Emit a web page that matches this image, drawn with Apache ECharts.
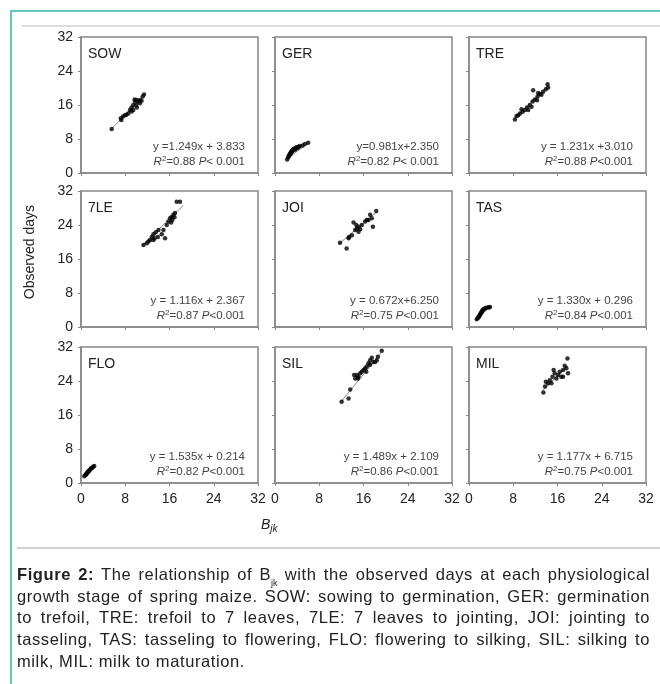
<!DOCTYPE html>
<html>
<head>
<meta charset="utf-8">
<script src="https://cdn.jsdelivr.net/npm/echarts@6/dist/echarts.min.js"></script>
<style>
  html, body { margin: 0; padding: 0; background: #fff; }
  #wrap { position: relative; width: 660px; height: 684px; overflow: hidden; }
  #main { position: absolute; left: 0; top: 0; width: 660px; height: 684px; }
  .frameTop { position: absolute; left: 11px; top: 10px; width: 660px; height: 2px; background: #62c8bb; }
  .frameLeft { position: absolute; left: 10px; top: 10px; width: 2px; height: 700px; background: #62c8bb; }
  .rule1 { position: absolute; left: 22px; top: 25px; width: 650px; height: 2px; background: #dcdcdc; }
  .rule2 { position: absolute; left: 17px; top: 547px; width: 650px; height: 2px; background: #d0d0d0; }
  #cap { position: absolute; left: 17px; top: 564px; width: 633px; font-family: "Liberation Sans", Arial, sans-serif;
         font-size: 16.5px; letter-spacing: 0.6px; line-height: 21.7px; color: #222; }
  #cap .l { text-align: justify; text-align-last: justify; white-space: nowrap; }
  #cap sub { font-size: 9px; vertical-align: -6px; line-height: 0; letter-spacing: 0; }
</style>
</head>
<body>
<div id="wrap">
  <div id="main"></div>
  <div class="frameTop"></div>
  <div class="frameLeft"></div>
  <div class="rule1"></div>
  <div class="rule2"></div>
  <div id="cap">
    <div class="l"><b>Figure 2:</b> The relationship of B<sub>jk</sub> with the observed days at each physiological</div>
    <div class="l">growth stage of spring maize. SOW: sowing to germination, GER: germination</div>
    <div class="l">to trefoil, TRE: trefoil to 7 leaves, 7LE: 7 leaves to jointing, JOI: jointing to</div>
    <div class="l">tasseling, TAS: tasseling to flowering, FLO: flowering to silking, SIL: silking to</div>
    <div>milk, MIL: milk to maturation.</div>
  </div>
</div>
<script>
// 各阶段数据 [B_jk, observed days]
const stages = ['SOW', 'GER', 'TRE', '7LE', 'JOI', 'TAS', 'FLO', 'SIL', 'MIL']
const axisTicks = [0, 8, 16, 24, 32]

const sow = [[5.55,10.35],[7.2,12.9],[7.6,13.3],[7.95,13.6],[8.55,14.0],[8.85,14.8],[9.15,15.4],[9.45,16],[9.75,16.8],
  [10.05,17.2],[10.35,16.8],[10.65,17.2],[11.15,18],[11.4,18.5],[9.95,16],[9.45,14.8],[10.1,15.4],[8.2,13.7],
  [7.3,12.5],[9.15,14.5],[10.65,16.4],[9.7,17.3],[10.95,17.0]]
const ger = [[2.2,3.2],[2.4,3.7],[2.6,4.2],[2.7,4.6],[2.9,4.9],[3.0,5.2],[3.2,5.4],[3.3,5.6],[3.5,5.7],[3.7,5.9],
  [3.9,6.0],[4.1,6.1],[4.3,6.2],[4.5,6.35],[5.0,6.5],[5.4,6.8],[6.0,7.1],[2.8,4.4],[3.1,5.0],[3.6,5.5],[4.0,5.8],[2.5,4.0]]
const tre = [[8.3,12.6],[8.6,13.4],[9.2,14.0],[9.7,14.4],[10.1,14.8],[10.5,15.4],[11.0,16],[11.5,16.8],[11.9,17.3],
  [12.4,18.0],[12.8,18.6],[13.4,19.1],[13.9,19.7],[14.3,20.1],[14.2,20.9],[9.5,15],[10.7,14.8],[12.3,17.1],
  [13.1,18.4],[11.3,15.6],[8.9,13.6],[12.5,18.8],[11.6,19.5]]
const le7 = [[11.3,19.3],[11.9,19.7],[12.5,20.5],[12.8,21.2],[13.1,21.8],[13.5,22.3],[14.0,22.8],[13.9,21.2],
  [14.6,21.8],[15.2,20.9],[14.9,22.8],[15.8,24.8],[16.1,25.6],[16.4,25.9],[16.7,26.4],[17.0,26.8],[16.5,25.2],
  [17.3,29.5],[17.9,29.5],[15.5,24.0],[12.2,20.1],[13.1,20.5],[13.3,20.9],[16.9,25.8],[16.3,24.6]]
const joi = [[11.75,19.8],[12.95,18.5],[13.3,20.9],[13.9,21.6],[14.2,24.6],[14.5,22.8],[14.8,23.2],[15.1,23.6],
  [15.4,23.0],[15.7,24.0],[16.3,24.8],[16.9,25.2],[17.2,26.4],[17.5,25.6],[17.7,23.6],[18.3,27.3],[14.7,24.0],
  [13.4,21.2],[15.1,22.4],[16.6,25.2]]
const tas = [[1.4,1.8],[1.6,2.1],[1.8,2.5],[2.0,2.9],[2.1,3.2],[2.3,3.5],[2.4,3.8],[2.6,4.1],[2.8,4.3],[3.0,4.5],
  [3.3,4.6],[3.6,4.6],[3.8,4.7],[2.2,3.4],[1.9,2.7],[2.5,4.0],[1.7,2.3]]
const flo = [[0.6,1.6],[0.8,1.9],[1.0,2.2],[1.2,2.5],[1.4,2.8],[1.6,3.1],[1.8,3.4],[2.0,3.6],[2.2,3.8],[2.4,4.0],
  [1.1,2.4],[1.5,2.9],[1.9,3.5],[0.9,2.0],[1.3,2.7]]
const sil = [[12.05,19.1],[13.3,19.9],[13.6,22.0],[14.5,24.6],[14.8,25.4],[15.1,25.0],[15.4,25.8],[15.7,26.2],
  [16.0,26.6],[16.3,27.0],[16.6,27.4],[16.9,28.2],[17.2,28.9],[17.5,29.5],[17.8,28.5],[18.4,28.9],[19.3,31.1],
  [18.6,29.7],[14.3,25.4],[15.0,24.6],[16.5,26.2],[17.2,27.8],[18.1,28.5]]
const mil = [[13.45,21.3],[13.75,22.7],[14.3,23.5],[14.6,24.2],[15.1,25.0],[15.5,25.8],[15.8,24.6],[16.4,26.2],
  [16.7,25.0],[17.0,26.6],[17.3,27.6],[17.6,27.0],[17.8,29.3],[13.9,23.8],[14.9,23.5],[16.1,25.4],[17.0,25.0],
  [17.9,25.8],[15.3,26.6]]
const points = [sow, ger, tre, le7, joi, tas, flo, sil, mil]

// 回归线两端
const fitLines = [
  [[5.3,10.1],[11.5,18.3]], [[2.1,3.3],[6.0,7.0]], [[8.2,12.8],[14.4,20.6]],
  [[11.0,19.1],[18.5,28.6]], [[11.5,19.5],[18.5,27.2]], [[1.4,1.9],[3.8,4.7]],
  [[0.6,1.6],[2.4,4.0]], [[11.8,18.9],[19.3,30.8]], [[13.3,21.8],[17.9,27.6]]
]

const eqText = ['y =1.249x + 3.833', 'y=0.981x+2.350', 'y = 1.231x +3.010', 'y = 1.116x + 2.367', 'y = 0.672x+6.250',
  'y = 1.330x + 0.296', 'y = 1.535x + 0.214', 'y = 1.489x + 2.109', 'y = 1.177x + 6.715']
const r2Text = ['0.88', '0.82', '0.88', '0.87', '0.75', '0.84', '0.82', '0.86', '0.75']
const pText = ['< 0.001', '< 0.001', '<0.001', '<0.001', '<0.001', '<0.001', '<0.001', '<0.001', '<0.001']

const colLeft = [81, 275, 469]
const rowTop = [37, 191, 347]
const W = 177, H = 136
const font = '"Liberation Sans", Arial, sans-serif'

const grids = [], xAxes = [], yAxes = [], series = [], graphics = []
stages.forEach((name, i) => {
  const row = Math.floor(i / 3), col = i % 3
  const left = colLeft[col], top = rowTop[row]
  grids.push({ left, top, width: W, height: H, show: true, borderColor: '#888', borderWidth: 1.5, containLabel: false })
  const axisBase = {
    gridIndex: i, min: axisTicks[0], max: axisTicks[axisTicks.length - 1], interval: 8,
    splitLine: { show: false },
    axisLine: { show: true, onZero: false, lineStyle: { color: '#888', width: 1.5 } },
    axisTick: { show: true, length: 3, lineStyle: { color: '#888' } }
  }
  xAxes.push({ ...axisBase, type: 'value',
    axisLabel: { show: row === 2, fontSize: 14, color: '#222', fontFamily: font, margin: 9 } })
  yAxes.push({ ...axisBase, type: 'value',
    axisLabel: { show: col === 0, fontSize: 14, color: '#222', fontFamily: font, margin: 8 } })
  series.push({ type: 'line', xAxisIndex: i, yAxisIndex: i, data: fitLines[i], symbol: 'none', silent: true,
    lineStyle: { color: '#666', width: 0.8 }, z: 2 })
  series.push({ type: 'scatter', xAxisIndex: i, yAxisIndex: i, data: points[i], symbolSize: 4.5,
    itemStyle: { color: '#000' }, z: 3 })
  graphics.push({ type: 'text', left: left + 7, top: top + 10,
    style: { text: name, fontSize: 14, fill: '#222', fontFamily: font } })
  graphics.push({ type: 'text', right: 660 - (left + W - 13), top: top + 104,
    style: { text: eqText[i], fontSize: 11.5, fill: '#444', fontFamily: font, align: 'right' } })
  graphics.push({ type: 'text', right: 660 - (left + W - 13), top: top + 118,
    style: {
      text: '{i|R}{s|2}{n|=' + r2Text[i] + ' }{i|P}{n|' + pText[i] + '}',
      fontSize: 11.5, fill: '#444', fontFamily: font,
      rich: {
        i: { fontSize: 11.5, fontStyle: 'italic', fill: '#444', fontFamily: font },
        s: { fontSize: 8, fill: '#444', fontFamily: font, padding: [0, 0, 6, 0] },
        n: { fontSize: 11.5, fill: '#444', fontFamily: font }
      }
    } })
})

// 轴标题
graphics.push({ type: 'text', left: 23, top: 205, rotation: Math.PI / 2,
  style: { text: 'Observed days', fontSize: 14, fill: '#222', fontFamily: font } })
graphics.push({ type: 'text', left: 261, top: 518,
  style: {
    text: '{b|B}{j|jk}', fontFamily: font,
    rich: {
      b: { fontSize: 14, fontStyle: 'italic', fill: '#222', fontFamily: font },
      j: { fontSize: 10, fontStyle: 'italic', fill: '#222', fontFamily: font, padding: [8, 0, 0, 0] }
    }
  } })

const chart = echarts.init(document.getElementById('main'))
chart.setOption({
  animation: false,
  backgroundColor: '#fff',
  grid: grids,
  xAxis: xAxes,
  yAxis: yAxes,
  series,
  graphic: graphics
})
</script>
</body>
</html>
